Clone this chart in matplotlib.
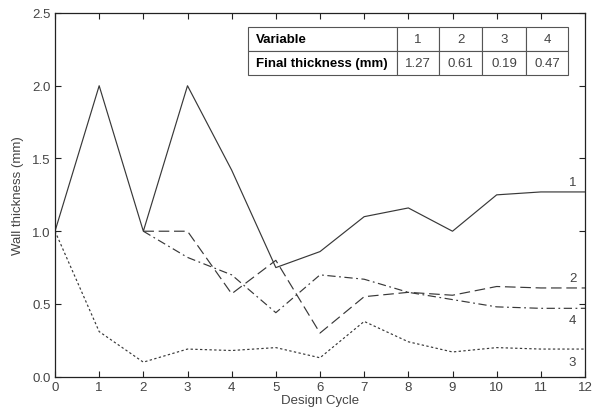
import matplotlib
matplotlib.use("Agg")
import matplotlib.pyplot as plt

plt.rcParams['font.family'] = ['Liberation Sans', 'DejaVu Sans']

cycles = list(range(13))
var1 = [1.0, 2.0, 1.0, 2.0, 1.42, 0.75, 0.86, 1.10, 1.16, 1.0, 1.25, 1.27, 1.27]
var2_cycles = list(range(2, 13))
var2 = [1.0, 1.0, 0.57, 0.80, 0.30, 0.55, 0.58, 0.56, 0.62, 0.61, 0.61]
var3 = [1.0, 0.31, 0.10, 0.19, 0.18, 0.20, 0.13, 0.38, 0.24, 0.17, 0.20, 0.19, 0.19]
var4_cycles = list(range(2, 13))
var4 = [1.0, 0.82, 0.70, 0.44, 0.70, 0.67, 0.58, 0.53, 0.48, 0.47, 0.47]

table_header = ["Variable", "1", "2", "3", "4"]
table_row = ["Final thickness (mm)", "1.27", "0.61", "0.19", "0.47"]

end_labels = ["1", "2", "4", "3"]
end_label_y = [1.34, 0.68, 0.39, 0.10]

fig = plt.figure(figsize=(5.92, 4.14), dpi=100)
ax = fig.add_axes([55/592, 1 - 377.7/414, 530/592, 363.7/414])

lc = '#383838'
ax.plot(cycles, var1, color=lc, lw=0.85, linestyle='-')
ax.plot(var2_cycles, var2, color=lc, lw=0.85, linestyle=(0, (9, 4)))
ax.plot(cycles, var3, color=lc, lw=0.85, linestyle=(0, (2, 2)))
ax.plot(var4_cycles, var4, color=lc, lw=0.85, linestyle=(0, (7, 3, 1.5, 3)))

for lab, yv in zip(end_labels, end_label_y):
    ax.text(11.72, yv, lab, fontsize=9.5, color='#444444', ha='center', va='center')

ax.set_xlim(0, 12)
ax.set_ylim(0, 2.5)
ax.set_xticks(range(13))
ax.set_yticks([0, 0.5, 1.0, 1.5, 2.0, 2.5])
ax.set_yticklabels(['0.0', '0.5', '1.0', '1.5', '2.0', '2.5'])
ax.tick_params(direction='in', top=True, right=True, length=4, width=0.8,
               labelsize=9.5, labelcolor='#444444', colors='#222222', pad=3)
for tl in ax.get_xticklabels() + ax.get_yticklabels():
    tl.set_color('#444444')
for s in ax.spines.values():
    s.set_color('#222222')
    s.set_linewidth(0.9)

ax.set_xlabel('Design Cycle', fontsize=9.5, color='#444444', labelpad=1)
ax.set_ylabel('Wall thickness (mm)', fontsize=9.5, color='#444444', labelpad=6)

tb = ax.table(cellText=[table_header, table_row],
              colWidths=[148.4, 42.6, 43.4, 43.4, 42.6],
              bbox=[(248.3 - 55) / 530, (377.7 - 76) / 363.7, 320 / 530, 47.7 / 363.7],
              cellLoc='center')
tb.auto_set_font_size(False)
for (r, c), cell in tb.get_celld().items():
    cell.set_edgecolor('#555555')
    cell.set_linewidth(0.8)
    txt = cell.get_text()
    txt.set_fontsize(9.5)
    if c == 0:
        txt.set_fontweight('bold')
        txt.set_color('black')
        cell.set_text_props(ha='left')
        cell.PAD = 0.05
    else:
        txt.set_color('#444444')

fig.savefig('out.png', dpi=100)
